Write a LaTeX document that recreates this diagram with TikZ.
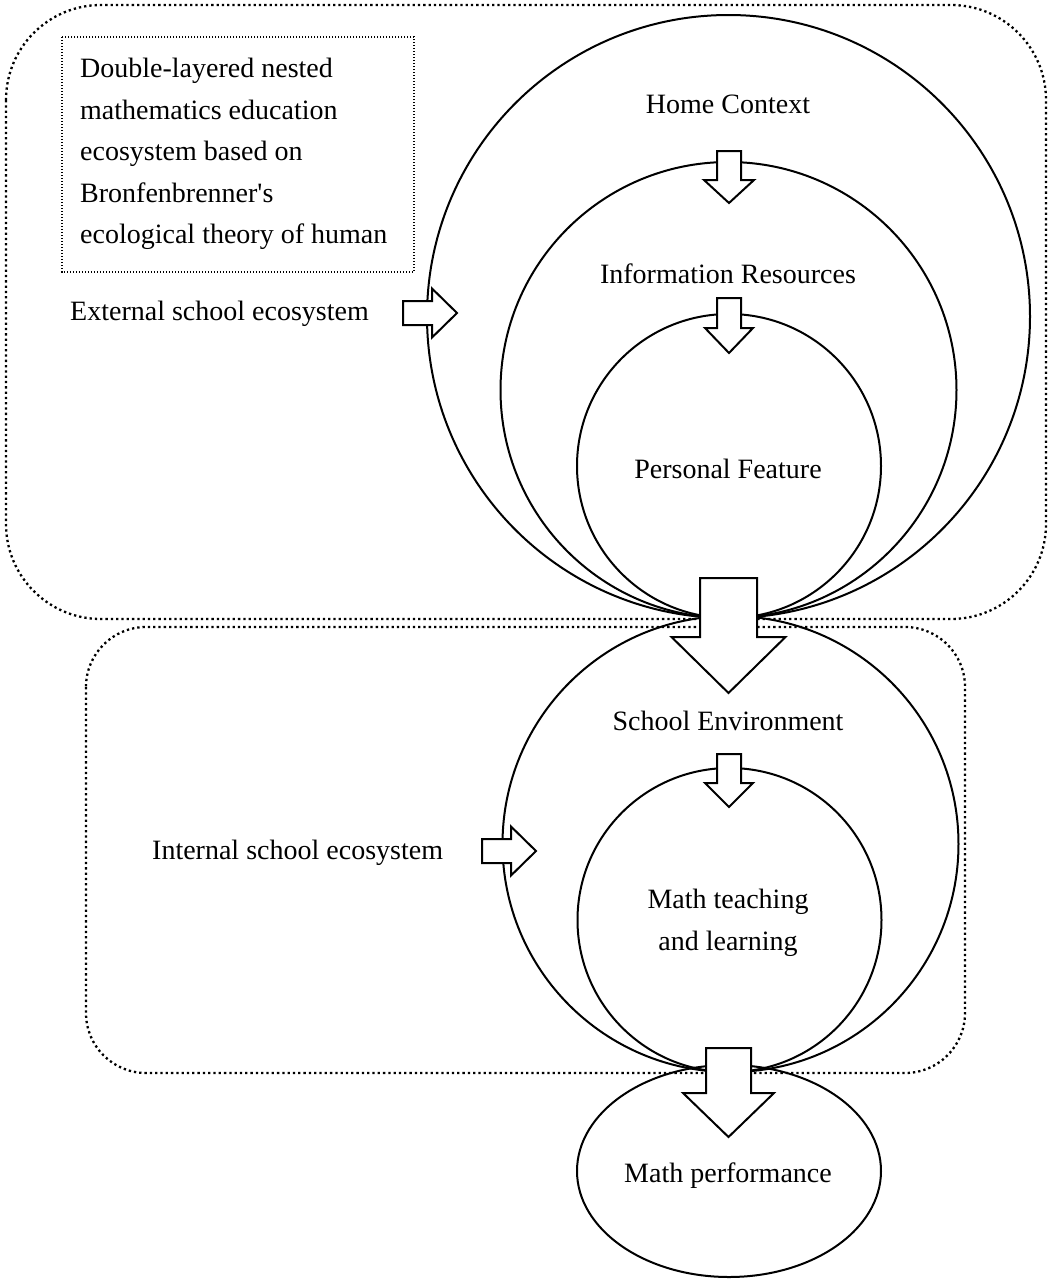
\documentclass[tikz,border=0pt]{standalone}
\usepackage{fontspec}
\setmainfont{Liberation Serif}
\usetikzlibrary{shapes.geometric}

% open block arrows, drawn white so they hide the lines below them
\newcommand{\blockdown}[6]{% x, top, neck, tip, half shaft, half head
  \draw[blockarrow] (#1-#5,#2) -- (#1+#5,#2) -- (#1+#5,#3) -- (#1+#6,#3)
    -- (#1,#4) -- (#1-#6,#3) -- (#1-#5,#3) -- cycle;}
\newcommand{\blockright}[6]{% y, left, neck, tip, half shaft, half head
  \draw[blockarrow] (#2,#1-#5) -- (#3,#1-#5) -- (#3,#1-#6) -- (#4,#1)
    -- (#3,#1+#6) -- (#3,#1+#5) -- (#2,#1+#5) -- cycle;}

\begin{document}
\begin{tikzpicture}[x=1pt, y=-1pt,
    ring/.style={circle, draw, line width=2pt, inner sep=0pt},
    eco/.style={draw, line width=2.3pt, dash pattern=on 2.3pt off 3pt},
    note/.style={draw, line width=1.3pt, dash pattern=on 1.3pt off 1.7pt},
    label/.style={font=\fontsize{28}{41.5}\selectfont, inner sep=0pt},
    blockarrow/.style={draw, fill=white, line width=2pt, line join=miter}]
    \useasboundingbox (0,0) rectangle (1052,1286);

    % the two ecosystems
    \draw[eco, rounded corners=95pt] (6,5) rectangle (1046,619);
    \draw[eco, rounded corners=60pt] (86,627) rectangle (965,1073);
    \draw[note] (62,37) rectangle (414,272);

    % nested circles
    \node[ring, minimum size=603pt] (home) at (728.5,316.5) {};
    \node[ring, minimum size=456pt] (info) at (728.5,390) {};
    \node[ring, minimum size=304pt] (personal) at (729,466) {};
    \node[ring, minimum size=456pt] (school) at (730.5,844) {};
    \node[ring, minimum size=304pt] (teaching) at (729.5,920) {};
    \node[ellipse, draw, line width=2pt, inner sep=0pt,
          minimum width=304pt, minimum height=212pt] (performance) at (729,1171) {};

    % block arrows
    \blockdown{729}{151}{180}{203}{12}{25}
    \blockdown{729}{298}{328}{353}{12}{24}
    \blockdown{728.5}{578}{637}{693}{28.5}{57}
    \blockdown{729}{754}{783}{807}{12}{24}
    \blockdown{728.5}{1048}{1093}{1137}{22.5}{45.5}
    \blockright{313}{403}{432}{457}{12}{24.5}
    \blockright{851}{482}{511}{536}{12}{24.5}

    % texts
    \node[label, align=left, anchor=west] (title) at (80,154)
        {Double-layered nested\\mathematics education\\ecosystem based on\\Bronfenbrenner\textquotesingle s\\ecological theory of human};
    \node[label, anchor=west] (external) at (70,314) {External school ecosystem};
    \node[label, anchor=west] (internal) at (152,853) {Internal school ecosystem};
    \node[label] (homelbl) at (728,104) {Home Context};
    \node[label] (infolbl) at (728,274) {Information Resources};
    \node[label] (personallbl) at (728,469) {Personal Feature};
    \node[label] (schoollbl) at (728,721) {School Environment};
    \node[label, align=center] (teachinglbl) at (728,923) {Math teaching\\and learning};
    \node[label] (performancelbl) at (728,1176) {Math performance};
\end{tikzpicture}
\end{document}
